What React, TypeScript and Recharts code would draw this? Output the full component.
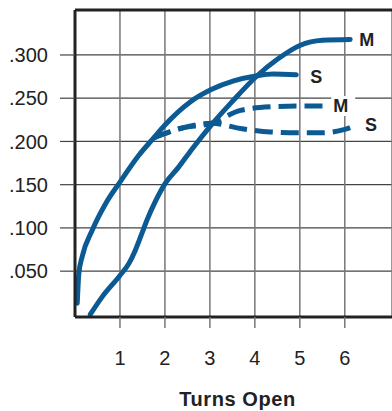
import React from "react";
import {
  LineChart,
  Line,
  XAxis,
  YAxis,
  CartesianGrid,
  ReferenceLine,
  Label,
} from "recharts";

// turns open vs. value
const solidSX = [0.05, 0.085, 0.16, 0.38, 0.68, 1.0, 1.42, 1.75, 2.0, 2.57, 3.03, 3.53, 4.05, 4.4, 4.92];
const solidSY = [0.013, 0.047, 0.067, 0.097, 0.128, 0.153, 0.184, 0.204, 0.219, 0.246, 0.26, 0.27, 0.276, 0.278, 0.277];

const solidMX = [0.34, 0.6, 1.0, 1.2, 1.34, 1.49, 1.6, 1.79, 2.0, 2.3, 2.6, 3.03, 3.46, 4.05, 4.5, 5.0, 5.5, 6.12];
const solidMY = [0.0, 0.02, 0.045, 0.059, 0.074, 0.094, 0.109, 0.131, 0.151, 0.17, 0.191, 0.219, 0.244, 0.276, 0.295, 0.311, 0.317, 0.318];

const dashSX = [1.75, 2.34, 3.03, 3.68, 4.34, 5.0, 5.5, 6.0, 6.27];
const dashSY = [0.204, 0.215, 0.221, 0.215, 0.211, 0.21, 0.21, 0.214, 0.219];

const dashMX = [1.75, 2.34, 3.03, 3.68, 4.34, 5.0, 5.52];
const dashMY = [0.204, 0.215, 0.221, 0.236, 0.24, 0.241, 0.241];

const xTicks = [1, 2, 3, 4, 5, 6];
const yTicks = [0.05, 0.1, 0.15, 0.2, 0.25, 0.3];

const toPoints = (xs: number[], ys: number[]) => xs.map((x, i) => ({ x, y: ys[i] }));

const BLUE = "#0b5a94";
const FONT = "'Liberation Sans', Arial, sans-serif";

function endLabel(text: string, count: number, dx: number, dy: number, boxed = false) {
  return (props: any) => {
    if (props.index !== count - 1) return null;
    const x = props.x + dx;
    const y = props.y + dy;
    return (
      <g>
        {boxed && <rect x={x - 2} y={y - 10} width={24} height={20} fill="#fff" />}
        <text
          x={x}
          y={y}
          dy="0.36em"
          fontSize={18}
          fontWeight="bold"
          fontFamily={FONT}
          fill="#222"
        >
          {text}
        </text>
      </g>
    );
  };
}

export default function App() {
  const lineProps = {
    dataKey: "y",
    type: "monotone" as const,
    stroke: BLUE,
    strokeWidth: 5,
    strokeLinecap: "round" as const,
    dot: false,
    activeDot: false,
    isAnimationActive: false,
  };

  return (
    <div style={{ position: "absolute", left: 0, top: 0 }}>
      <LineChart width={392} height={411} margin={{ top: 10, right: 0, bottom: 0, left: 0 }}>
        <CartesianGrid vertical={false} stroke="#444" strokeWidth={1.2} />
        <CartesianGrid horizontal={false} stroke="#777" strokeWidth={1.5} />
        <XAxis
          type="number"
          dataKey="x"
          domain={[0, 7.05]}
          ticks={xTicks}
          allowDataOverflow
          height={94}
          tickSize={11}
          tickMargin={23}
          tickLine={{ stroke: "#777", strokeWidth: 1.5 }}
          axisLine={{ stroke: "#222", strokeWidth: 3 }}
          tick={{ fontSize: 20, fill: "#222", fontFamily: FONT }}
        >
          <Label
            value="Turns Open"
            position="insideBottom"
            offset={5}
            dx={4}
            style={{ fontSize: 20, fontWeight: "bold", fill: "#222", fontFamily: FONT, letterSpacing: 0.6 }}
          />
        </XAxis>
        <YAxis
          type="number"
          dataKey="y"
          domain={[-0.003, 0.352]}
          ticks={yTicks}
          allowDataOverflow
          width={75}
          tickSize={15}
          tickMargin={12}
          tickFormatter={(v: number) => v.toFixed(3).replace(/^0/, "")}
          tickLine={{ stroke: "#444", strokeWidth: 1.2 }}
          axisLine={{ stroke: "#222", strokeWidth: 3 }}
          tick={{ fontSize: 20, fill: "#222", fontFamily: FONT }}
        />
        <ReferenceLine y={0.352} stroke="#222" strokeWidth={3} />
        <Line {...lineProps} data={toPoints(solidSX, solidSY)} label={endLabel("S", solidSX.length, 14, 2)} />
        <Line {...lineProps} data={toPoints(solidMX, solidMY)} label={endLabel("M", solidMX.length, 9, 0)} />
        <Line
          {...lineProps}
          data={toPoints(dashSX, dashSY)}
          strokeDasharray="18 8"
          strokeLinecap="butt"
          label={endLabel("S", dashSX.length, 8, 0)}
        />
        <Line
          {...lineProps}
          data={toPoints(dashMX, dashMY)}
          strokeDasharray="18 8"
          strokeLinecap="butt"
          label={endLabel("M", dashMX.length, 10, 0, true)}
        />
      </LineChart>
    </div>
  );
}
